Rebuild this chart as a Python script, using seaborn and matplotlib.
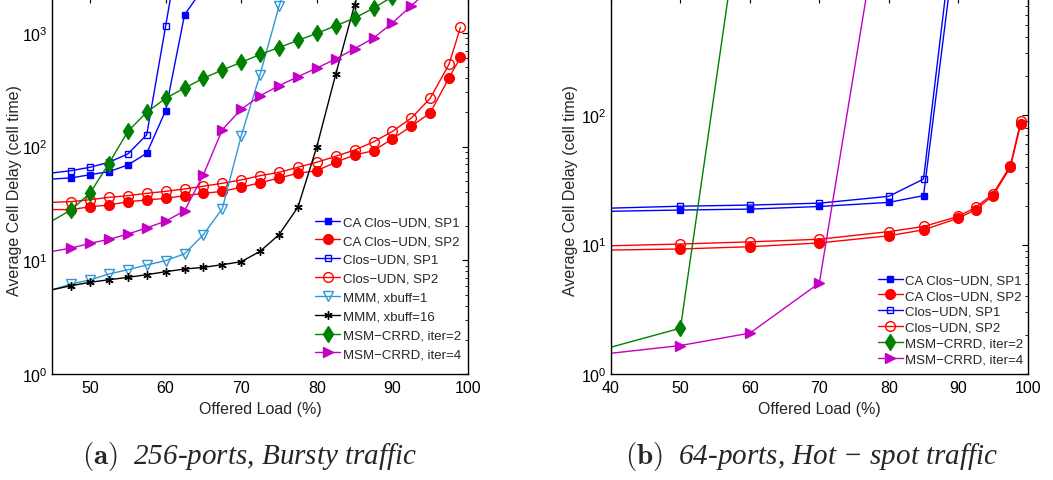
import numpy as np
import pandas as pd
import seaborn as sns
import matplotlib
matplotlib.use("Agg")
import matplotlib.pyplot as plt
from matplotlib.ticker import LogLocator, NullFormatter, FixedLocator

# ---------------- data ----------------
# (a) 256-ports, bursty traffic
load_a = [42.5, 47.5, 50, 52.5, 55, 57.5, 60, 62.5, 65, 67.5, 70, 72.5, 75,
          77.5, 80, 82.5, 85, 87.5, 90, 92.5, 95, 97.5, 99]
ca_sp1_a = [50.8, 53, 56.6, 60.2, 68.9, 87.3, 207, 1437, 2500] + [None] * 14
sp1_a = [56, 61.4, 65.8, 72.8, 86.1, 127, 1143, 10500] + [None] * 15
ca_sp2_a = [28.0, 27.9, 29.6, 30.6, 32.8, 33.9, 35.1, 37.0, 38.8, 40.4, 43.9, 48.0,
            53.0, 58.2, 61.4, 72.8, 84.4, 92.0, 117, 151, 198, 404, 610]
sp2_a = [31.9, 32.8, 34.1, 35.8, 37.0, 38.8, 40.4, 42.4, 44.8, 47.6, 50.9, 55.5,
         59.4, 65.8, 72.8, 82.2, 93.3, 110, 136, 178, 266, 532, 1120]
mmm1_a = [4.9, 6.19, 6.71, 7.58, 8.26, 9.09, 9.93, 11.4, 16.8, 28.5, 124, 430,
          1714, 5500] + [None] * 9
mmm16_a = [5.07, 5.98, 6.4, 6.75, 7.08, 7.47, 7.94, 8.38, 8.67, 9.15, 9.72, 12.0,
           16.8, 29.3, 99.7, 432, 1770, 6000] + [None] * 5
crrd2_a = [17.9, 27.7, 39.0, 71, 136, 200, 266, 327, 399, 472, 551, 646, 744,
           858, 991, 1156, 1350, 1650, 2080] + [None] * 4
crrd4_a = [11.2, 12.8, 14.1, 15.3, 17.0, 19.3, 22.1, 27.2, 56.5, 141, 213, 280,
           343, 412, 491, 589, 726, 902, 1222, 1734, 2450, None, None]

# (b) 64-ports, hot-spot traffic
load_b = [30, 50, 60, 70, 80, 85, 90, 92.5, 95, 97.5, 99]
ca_sp1_b = [17.7, 18.5, 18.8, 19.7, 21.2, 23.9, 3250] + [None] * 4
sp1_b = [18.5, 19.8, 20.2, 20.9, 23.6, 32.1, 5700] + [None] * 4
ca_sp2_b = [8.9, 9.25, 9.63, 10.3, 11.7, 13.0, 16.0, 18.6, 23.9, 39.6, 85.5]
sp2_b = [9.5, 10.1, 10.5, 11.0, 12.6, 13.8, 16.5, 19.4, 24.6, 40.7, 89.8]
crrd2_b = [1.15, 2.26, 12000] + [None] * 8
crrd4_b = [1.26, 1.66, 2.07, 5.05, 9500] + [None] * 6

labels = ["CA Clos\u2212UDN, SP1", "CA Clos\u2212UDN, SP2", "Clos\u2212UDN, SP1",
          "Clos\u2212UDN, SP2", "MMM, xbuff=1", "MMM, xbuff=16",
          "MSM\u2212CRRD, iter=2", "MSM\u2212CRRD, iter=4"]

captions = [r"$\mathbf{(a)}$  256-ports, Bursty traffic",
            "$\\mathbf{(b)}$  64-ports, Hot \u2212 spot traffic"]

# ---------------- styling ----------------
sns.set_theme(style="white")
plt.rcParams["font.family"] = ["Liberation Sans", "DejaVu Sans"]
plt.rcParams.update({
    "xtick.direction": "in", "ytick.direction": "in",
    "xtick.top": True, "ytick.right": True,
    "xtick.major.size": 4, "ytick.major.size": 4,
    "ytick.minor.size": 2.5, "xtick.minor.size": 0,
    "xtick.major.width": 0.8, "ytick.major.width": 0.8, "ytick.minor.width": 0.6,
    "xtick.color": "black", "ytick.color": "black",
    "axes.edgecolor": "black", "axes.linewidth": 1.0,
})

BLUE, RED, LBLUE, GREEN, MAG = "#0000ff", "#ff0000", "#2f97d6", "#008000", "#c400c4"
ASTER = (6, 2, 0)

styles = {
    labels[0]: dict(color=BLUE, marker="s", ms=5, mfc=BLUE, mec=BLUE),
    labels[1]: dict(color=RED, marker="o", ms=7, mfc=RED, mec=RED),
    labels[2]: dict(color=BLUE, marker="s", ms=5, mfc="none", mec=BLUE),
    labels[3]: dict(color=RED, marker="o", ms=7, mfc="none", mec=RED),
    labels[4]: dict(color=LBLUE, marker="v", ms=7, mfc="none", mec=LBLUE),
    labels[5]: dict(color="black", marker=ASTER, ms=6, mfc="black", mec="black"),
    labels[6]: dict(color=GREEN, marker="d", ms=8, mfc=GREEN, mec=GREEN),
    labels[7]: dict(color=MAG, marker=">", ms=7, mfc=MAG, mec=MAG),
}


def long_frame(x, series):
    rows = []
    for name, vals in series:
        for xv, yv in zip(x, vals):
            if yv is not None:
                rows.append((name, xv, yv))
    return pd.DataFrame(rows, columns=["series", "load", "delay"])


df_a = long_frame(load_a, [(labels[0], ca_sp1_a), (labels[1], ca_sp2_a),
                           (labels[2], sp1_a), (labels[3], sp2_a),
                           (labels[4], mmm1_a), (labels[5], mmm16_a),
                           (labels[6], crrd2_a), (labels[7], crrd4_a)])
df_b = long_frame(load_b, [(labels[0], ca_sp1_b), (labels[1], ca_sp2_b),
                           (labels[2], sp1_b), (labels[3], sp2_b),
                           (labels[6], crrd2_b), (labels[7], crrd4_b)])

fig = plt.figure(figsize=(10.53, 4.81), dpi=100)
W, H = 1053, 481
ax_a = fig.add_axes([52.2 / W, 106 / H, 415.8 / W, 377 / H])
ax_b = fig.add_axes([611 / W, 106 / H, 416.7 / W, 377 / H])


def draw(ax, df, order, xlim, ytop, xticks, ylabel_x, leg_anchor, leg_spacing):
    for name in order:
        sub = df[df["series"] == name]
        st = styles[name]
        sns.lineplot(data=sub, x="load", y="delay", ax=ax, label=name,
                     color=st["color"], marker=st["marker"], markersize=st["ms"],
                     markerfacecolor=st["mfc"], markeredgecolor=st["mec"],
                     markeredgewidth=1.0, linewidth=1.0, sort=False,
                     estimator=None, errorbar=None)
    ax.set_yscale("log")
    ax.set_xlim(*xlim)
    ax.set_ylim(1, ytop)
    ax.xaxis.set_major_locator(FixedLocator(xticks))
    ax.yaxis.set_major_locator(LogLocator(base=10, numticks=10))
    ax.yaxis.set_minor_locator(LogLocator(base=10, subs=np.arange(2, 10), numticks=20))
    ax.yaxis.set_minor_formatter(NullFormatter())
    ax.tick_params(axis="both", which="major", labelsize=11.5)
    ax.tick_params(axis="x", which="major", pad=4.5)
    ax.tick_params(axis="y", which="major", pad=3)
    ax.set_xlabel("Offered Load (%)", fontsize=11.5)
    ax.set_ylabel("Average Cell Delay (cell time)", fontsize=11.5)
    ax.xaxis.set_label_coords(0.5, -0.072)
    ax.yaxis.set_label_coords(ylabel_x, 0.49)
    for s in ax.spines.values():
        s.set_visible(True)
        s.set_color("black")
    ax.legend(loc="upper left", bbox_to_anchor=leg_anchor, frameon=False,
              fontsize=9.5, borderpad=0, handlelength=1.9, handletextpad=0.2,
              labelspacing=leg_spacing, borderaxespad=0)


draw(ax_a, df_a, labels, (45, 100), 10 ** (377 / 113.7),
     [50, 60, 70, 80, 90, 100], -0.072, ((315 - 52.2) / 415.8, (375 - 217) / 377), 0.5)
draw(ax_b, df_b, [labels[i] for i in (0, 1, 2, 3, 6, 7)], (40, 100), 10 ** (377 / 129.4),
     [40, 50, 60, 70, 80, 90, 100], -0.078, ((877.7 - 611) / 416.7, (375 - 275) / 377), 0.27)

for cx, text in zip((250, 812), captions):
    fig.text(cx / W, 1 - 457 / H, text, family="Liberation Serif", style="italic",
             math_fontfamily="cm", fontsize=21, ha="center", va="center")

fig.savefig("out.png", dpi=100)
